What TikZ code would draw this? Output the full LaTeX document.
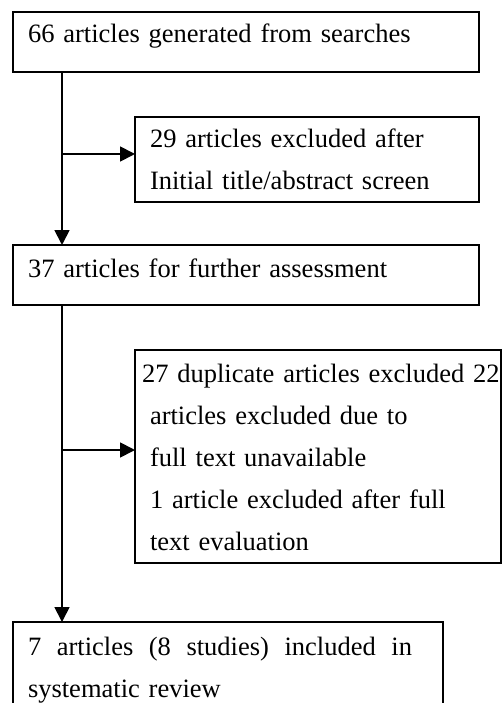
\documentclass[tikz,border=0pt]{standalone}
\usepackage{fontspec}
\setmainfont{Liberation Serif}
\usetikzlibrary{arrows.meta}
\tikzset{
  box/.style={draw, line width=1.8pt, anchor=north west, inner ysep=0pt, outer sep=0pt,
    align=left, font=\fontsize{26.5}{42}\selectfont},
  flow/.style={draw, line width=1.8pt, -{Triangle[length=15pt,width=15pt]}},
}
\begin{document}
\begin{tikzpicture}[x=1pt,y=-1pt]
\useasboundingbox (0,0) rectangle (502,703);
\clip (0,0) rectangle (502,703);
% main stages
\node[box, inner xsep=15pt, text width=436pt, text height=31pt, text depth=29pt] (found) at (13,12)
  {66 articles generated from searches};
\node[box, inner xsep=15pt, text width=436pt, text height=32pt, text depth=28pt] (further) at (13,245)
  {37 articles for further assessment};
\node[box, inner xsep=15pt, text width=400pt, text height=33pt, text depth=70pt] (incl) at (13,622)
  {\makebox[384pt][l]{7\hfill articles\hfill (8\hfill studies)\hfill included\hfill in}\\systematic review};
% exclusions
\node[box, inner xsep=15pt, text width=314pt, text height=31pt, text depth=54pt] (screen) at (135,117)
  {29 articles excluded after\\Initial title/abstract screen};
\node[box, inner xsep=7pt, text width=352pt, text height=32pt, text depth=181pt] (full) at (135,350)
  {\mbox{27 duplicate articles excluded 22}\\
   \hspace*{8pt}articles excluded due to\\
   \hspace*{8pt}full text unavailable\\
   \hspace*{8pt}1 article excluded after full\\
   \hspace*{8pt}text evaluation};
% connectors
\coordinate (spine) at (62,0);
\coordinate (in1) at ([yshift=5.5pt]screen.west);
\coordinate (in2) at ([yshift=6.5pt]full.west);
\draw[flow] (found.south -| spine) -- (further.north -| spine);
\draw[flow] (spine |- in1) -- (in1);
\draw[flow] (further.south -| spine) -- (incl.north -| spine);
\draw[flow] (spine |- in2) -- (in2);
\end{tikzpicture}
\end{document}
